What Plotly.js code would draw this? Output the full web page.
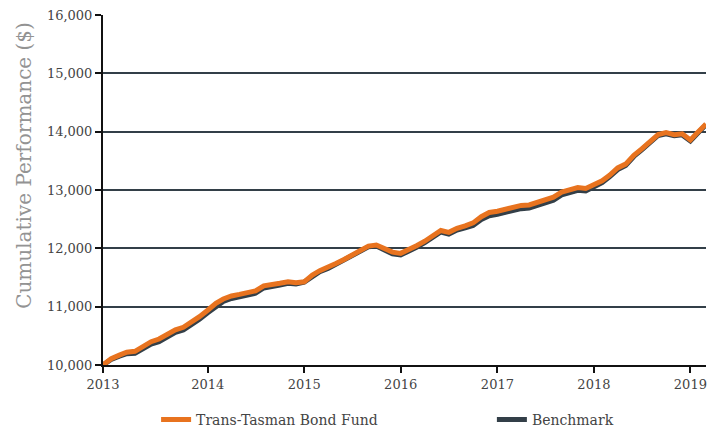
<!DOCTYPE html>
<html>
<head>
<meta charset="utf-8">
<script src="https://cdn.plot.ly/plotly-3.0.1.min.js"></script>
<style>html,body{margin:0;padding:0;background:#fff;}#chart{width:716px;height:428px;}</style>
</head>
<body>
<div id="chart"></div>
<script>
// Monthly dates, Dec 2012 .. Mar 2019
var dates = ["2012-12-01","2013-01-01","2013-02-01","2013-03-01","2013-04-01","2013-05-01","2013-06-01","2013-07-01","2013-08-01","2013-09-01","2013-10-01","2013-11-01","2013-12-01",
"2014-01-01","2014-02-01","2014-03-01","2014-04-01","2014-05-01","2014-06-01","2014-07-01","2014-08-01","2014-09-01","2014-10-01","2014-11-01","2014-12-01",
"2015-01-01","2015-02-01","2015-03-01","2015-04-01","2015-05-01","2015-06-01","2015-07-01","2015-08-01","2015-09-01","2015-10-01","2015-11-01","2015-12-01",
"2016-01-01","2016-02-01","2016-03-01","2016-04-01","2016-05-01","2016-06-01","2016-07-01","2016-08-01","2016-09-01","2016-10-01","2016-11-01","2016-12-01",
"2017-01-01","2017-02-01","2017-03-01","2017-04-01","2017-05-01","2017-06-01","2017-07-01","2017-08-01","2017-09-01","2017-10-01","2017-11-01","2017-12-01",
"2018-01-01","2018-02-01","2018-03-01","2018-04-01","2018-05-01","2018-06-01","2018-07-01","2018-08-01","2018-09-01","2018-10-01","2018-11-01","2018-12-01",
"2019-01-01","2019-02-01","2019-03-01"];

var fundValues = [10000,10108,10169,10218,10235,10319,10400,10445,10527,10604,10647,10735,10828,
10939,11057,11131,11184,11210,11248,11271,11358,11390,11401,11428,11411,
11426,11543,11617,11670,11740,11810,11882,11961,12038,12057,11991,11935,
11914,11975,12046,12122,12205,12305,12274,12344,12386,12436,12543,12614,
12637,12675,12712,12736,12743,12786,12831,12877,12964,12999,13042,13026,
13090,13159,13251,13378,13444,13596,13705,13829,13951,13983,13948,13964,
13858,14005,14130];

var benchmarkValues = [10000,10095,10150,10195,10200,10280,10360,10400,10480,10560,10600,10690,10785,
10895,11010,11090,11140,11170,11210,11230,11320,11355,11370,11400,11390,
11420,11520,11600,11655,11725,11795,11870,11950,12025,12040,11965,11905,
11885,11950,12020,12100,12180,12280,12245,12315,12350,12390,12495,12560,
12585,12625,12660,12680,12690,12735,12780,12825,12915,12950,12995,12985,
13050,13125,13225,13350,13420,13575,13690,13810,13935,13965,13930,13945,
13840,13990,14120];

var xTickVals = ["2012-12-01","2014-01-01","2015-01-01","2016-01-01","2017-01-01","2018-01-01","2019-01-01"];
var xTickText = ["2013","2014","2015","2016","2017","2018","2019"];
var yTickVals = [10000,11000,12000,13000,14000,15000,16000];
var yTickText = ["10,000","11,000","12,000","13,000","14,000","15,000","16,000"];

var seriesNames = ["Trans-Tasman Bond Fund","Benchmark"];
var yTitle = "Cumulative Performance ($)";

var FONT = "'DejaVu Serif', 'Liberation Serif', serif";

var fundTrace = {x: dates, y: fundValues, name: seriesNames[0], type: "scatter", mode: "lines",
   line: {color: "#e8731f", width: 5}, legend: "legend"};
var benchTrace = {x: dates, y: benchmarkValues, name: seriesNames[1], type: "scatter", mode: "lines",
   line: {color: "#333f48", width: 5}, legend: "legend2"};
// draw benchmark beneath fund
var data = [benchTrace, fundTrace];

var legendFont = {family: FONT, size: 14, color: "#444"};

var layout = {
  width: 716, height: 428,
  margin: {l: 103, r: 10, t: 15, b: 63},
  paper_bgcolor: "#ffffff", plot_bgcolor: "#ffffff",
  font: {family: FONT, size: 13, color: "#444"},
  showlegend: true,
  legend: {orientation: "h", xref: "container", yref: "container",
           x: 0.218, xanchor: "left", y: 0.019, yanchor: "middle",
           font: legendFont, bgcolor: "rgba(0,0,0,0)"},
  legend2: {orientation: "h", xref: "container", yref: "container",
           x: 0.687, xanchor: "left", y: 0.019, yanchor: "middle",
           font: legendFont, bgcolor: "rgba(0,0,0,0)"},
  xaxis: {type: "date", range: ["2012-12-01","2019-03-01"],
          tickmode: "array", tickvals: xTickVals, ticktext: xTickText,
          showgrid: false, zeroline: false,
          showline: true, linecolor: "#111", linewidth: 2,
          ticks: "outside", ticklen: 6, tickwidth: 2, tickcolor: "#111",
          tickfont: {family: FONT, size: 13, color: "#444"}},
  yaxis: {range: [10000,16000], tickmode: "array", tickvals: yTickVals, ticktext: yTickText,
          showgrid: true, gridcolor: "#333f48", gridwidth: 2, zeroline: false,
          showline: true, linecolor: "#111", linewidth: 2,
          ticks: "outside", ticklen: 6, tickwidth: 2, tickcolor: "#111",
          tickfont: {family: FONT, size: 13, color: "#444"}},
  annotations: [{text: yTitle, textangle: -90, xref: "paper", yref: "paper",
                 x: -0.131, y: 0.569, xanchor: "center", yanchor: "middle", showarrow: false,
                 font: {family: FONT, size: 20, color: "#939393"}}]
};

Plotly.newPlot("chart", data, layout, {staticPlot: true, displayModeBar: false});
</script>
</body>
</html>
